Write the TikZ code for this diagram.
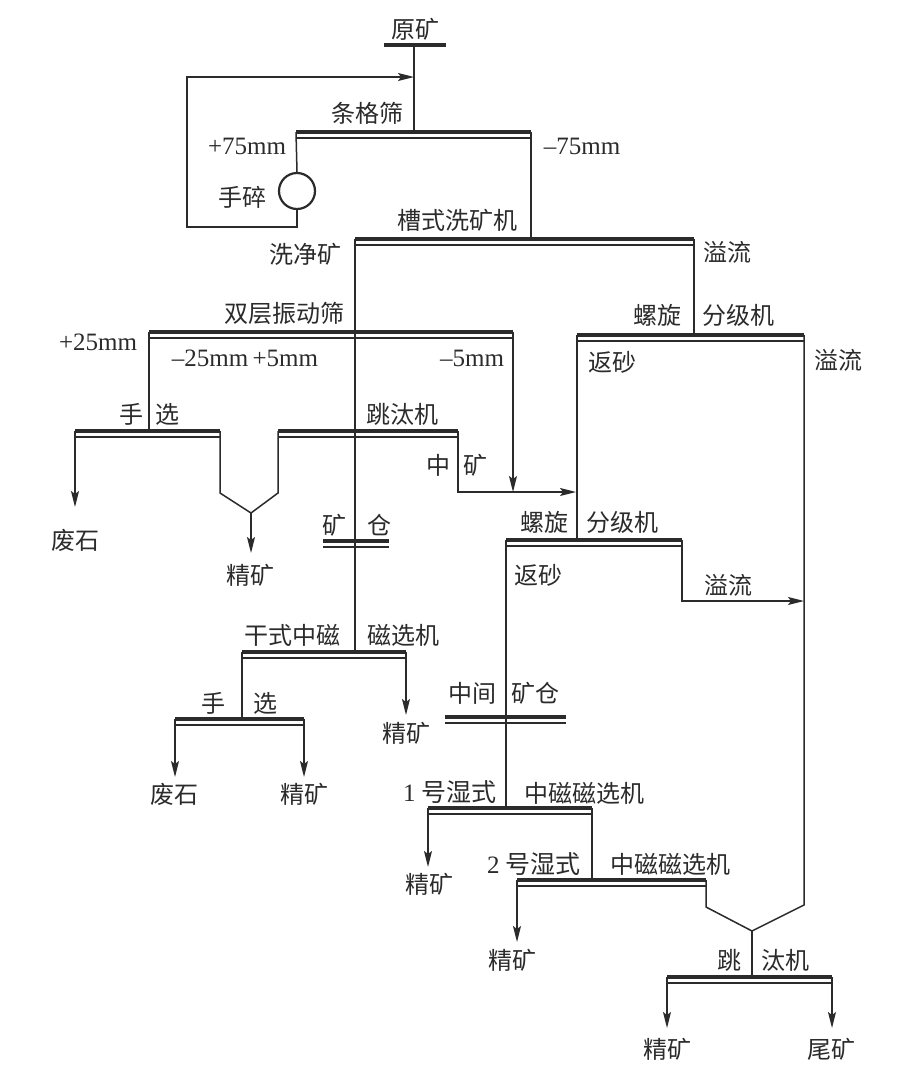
\documentclass[tikz,border=0pt]{standalone}
\usepackage{fontspec}
\setmainfont{Liberation Serif}
\newfontfamily\cjk{Noto Sans CJK SC}
\usetikzlibrary{arrows.meta,calc}
\definecolor{ink}{HTML}{2B2B2B}
\newcommand\screenbar[4]{%
  \coordinate (#1l) at (#2,#4);
  \coordinate (#1r) at (#3,#4);
  \draw[heavy] (#1l) -- (#1r);
  \draw[flow] ($(#1l)+(0,6)$) -- ($(#1r)+(0,6)$);}
\newcommand\binbar[4]{%
  \coordinate (#1l) at (#2,#4);
  \coordinate (#1r) at (#3,#4);
  \draw[heavy] (#1l) -- (#1r);
  \draw[draw=ink,line width=2.4pt] ($(#1l)+(0,6)$) -- ($(#1r)+(0,6)$);}
\begin{document}
\begin{tikzpicture}[x=1pt,y=-1pt,
  flow/.style={draw=ink, line width=1.5pt},
  heavy/.style={draw=ink, line width=3.4pt},
  arr/.style={flow, -{Stealth[length=16pt,width=8pt,inset=3pt]}},
  zh/.style={inner sep=0pt, text=ink, font=\fontsize{24}{24}\selectfont\cjk},
  la/.style={inner sep=0pt, text=ink, font=\fontsize{25}{25}\selectfont\rmfamily}]
\useasboundingbox[fill=white] (0,0) rectangle (917,1082);

% raw ore
\node[zh] (yk) at (415,29) {原矿};
\coordinate (okl) at (384,45); \coordinate (okr) at (446,45); \coordinate (ok) at (414,45);
\draw[heavy] (okl) -- (okr);

% bar screen
\screenbar{tg}{296}{531}{132}
\coordinate (tgfeed) at (414,132);
\coordinate (ret) at (414,77);
\draw[flow] (ok) -- (tgfeed);
\node[zh] (ltg) at (367,113) {条格筛};
\node[la] (l75p) at (247,146) {+75mm};
\node[la] (l75m) at (582,146) {–75mm};
\node[circle, draw=ink, line width=2.2pt, minimum size=36pt, inner sep=0pt] (hs) at (297,191) {};
\node[zh] (lhs) at (242,197) {手碎};
\draw[flow] (tgl) -- (hs.north);
\coordinate (r1) at (297,227); \coordinate (r2) at (187,227); \coordinate (r3) at (187,77);
\draw[arr] (hs.south) -- (r1) -- (r2) -- (r3) -- (ret);

% trough washer
\screenbar{cs}{355}{694}{239}
\draw[flow] (tgr) -- (tgr |- csl);
\node[zh] (lcs) at (457,220) {槽式洗矿机};
\node[zh] (lxj) at (305,254) {洗净矿};
\node[zh] (lyl1) at (727,252) {溢流};

% double deck screen
\screenbar{sc}{149}{513}{332}
\node[zh] (lsc) at (284,313) {双层振动筛};
\node[la] (l25p) at (98,342) {+25mm};
\node[la] (l25m) at (245,358) {–25mm\,+5mm};
\node[la] (l5m) at (472,358) {–5mm};

% hand picking 1
\screenbar{hx}{75}{220}{431}
\draw[flow] (scl) -- (scl |- hxl);
\node[zh] (lh1) at (131,414) {手}; \node[zh] (lx1) at (167,414) {选};
\coordinate (fs1) at (75,507);
\draw[arr] (hxl) -- (fs1);
\node[zh] (lfs1) at (75,540) {废石};

% cone + jig
\coordinate (c1) at (220,493); \coordinate (ct) at (251,513); \coordinate (c2) at (278,493);
\screenbar{jt}{278}{458}{431}
\draw[flow] (hxr) -- (c1) -- (ct) -- (c2) -- (jtl);
\coordinate (jk1) at (251,553);
\draw[arr] (ct) -- (jk1);
\node[zh] (ljk1) at (250,575) {精矿};
\node[zh] (ljt) at (402,414) {跳汰机};

% ore bin
\binbar{kc}{323}{389}{541}
\node[zh] (lk) at (334,525) {矿}; \node[zh] (lc) at (379,525) {仓};

% middlings
\coordinate (zk1) at (458,492); \coordinate (zk2) at (576,492);
\draw[arr] (jtr) -- (zk1) -- (zk2);
\coordinate (m5) at (513,492);
\draw[arr] (scr) -- (m5);
\node[zh] (lz) at (438,465) {中}; \node[zh] (lzk) at (475,465) {矿};

% upper spiral classifier
\screenbar{ls}{577}{804}{335}
\coordinate (lsfeed) at (694,335);
\draw[flow] (csr) -- (lsfeed);
\node[zh] (lls1) at (657,315) {螺旋}; \node[zh] (lls2) at (738,315) {分级机};
\node[zh] (lyl2) at (838,360) {溢流}; \node[zh] (lfsa1) at (612,362) {返砂};

% lower spiral classifier
\screenbar{lt}{506}{682}{540}
\draw[flow] (lsl) -- (lsl |- ltl);
\node[zh] (llt1) at (544,522) {螺旋}; \node[zh] (llt2) at (622,522) {分级机};
\coordinate (of1) at (682,601); \coordinate (of2) at (804,601);
\draw[arr] (ltr) -- (of1) -- (of2);
\node[zh] (lyl3) at (728,585) {溢流};
\node[zh] (lfsa2) at (538,575) {返砂};

% intermediate bin
\binbar{zj}{445}{566}{717}
\node[zh] (lzj1) at (472,693) {中间}; \node[zh] (lzj2) at (535,693) {矿仓};

% No.1 wet magnetic separator
\screenbar{ma}{428}{592}{808}
\draw[flow] (ltl) -- (ltl |- mal);
\node[la] (lma1) at (450,792) {1 {\cjk 号湿式}};
\node[zh] (lma2) at (584,793) {中磁磁选机};
\coordinate (j1) at (428,867);
\draw[arr] (mal) -- (j1);
\node[zh] (lj1) at (429,884) {精矿};

% No.2 wet magnetic separator
\screenbar{mb}{517}{706}{880}
\draw[flow] (mar) -- (mar |- mbl);
\node[la] (lmb1) at (534,864) {2 {\cjk 号湿式}};
\node[zh] (lmb2) at (670,864) {中磁磁选机};
\coordinate (j2) at (517,942);
\draw[arr] (mbl) -- (j2);
\node[zh] (lj2) at (512,960) {精矿};

% final cone + jig
\coordinate (d1) at (706,907); \coordinate (dt) at (752,931); \coordinate (d2) at (804,905);
\draw[flow] (lsr) -- (d2) -- (dt) -- (d1) -- (mbr);
\screenbar{jb}{667}{832}{977}
\draw[flow] (dt) -- (dt |- jbl);
\node[zh] (ljb1) at (729,960) {跳}; \node[zh] (ljb2) at (785,960) {汰机};
\coordinate (j3) at (667,1028); \coordinate (w) at (832,1028);
\draw[arr] (jbl) -- (j3); \draw[arr] (jbr) -- (w);
\node[zh] (lj3) at (667,1049) {精矿}; \node[zh] (lw) at (831,1049) {尾矿};

% dry magnetic separator
\screenbar{gs}{242}{406}{652}
\draw[flow] (csl) -- (csl |- gsl);
\node[zh] (lgs1) at (292,635) {干式中磁}; \node[zh] (lgs2) at (403,635) {磁选机};
\coordinate (j4) at (406,715);
\draw[arr] (gsr) -- (j4);
\node[zh] (lj4) at (406,733) {精矿};

% hand picking 2
\screenbar{hy}{175}{304}{719}
\draw[flow] (gsl) -- (gsl |- hyl);
\node[zh] (lh2) at (213,703) {手}; \node[zh] (lx2) at (265,703) {选};
\coordinate (f2) at (175,777); \coordinate (j5) at (304,777);
\draw[arr] (hyl) -- (f2); \draw[arr] (hyr) -- (j5);
\node[zh] (lfs2) at (174,794) {废石}; \node[zh] (lj5) at (304,794) {精矿};
\end{tikzpicture}
\end{document}
